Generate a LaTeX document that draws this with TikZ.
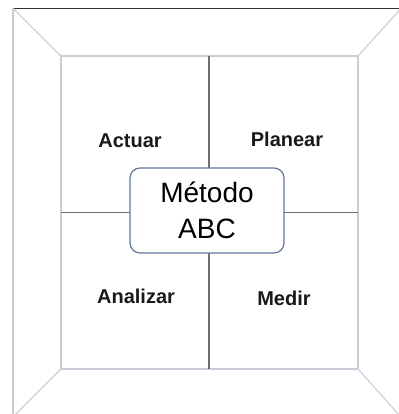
\documentclass[tikz,border=0pt]{standalone}
\usepackage{fontspec}
\setmainfont{Liberation Sans}
\definecolor{framec}{HTML}{C9CDD8}
\definecolor{divc}{HTML}{6E6E6E}
\definecolor{boxc}{HTML}{61789A}
\begin{document}
\begin{tikzpicture}[x=1pt,y=-1pt,
  frameline/.style={draw=framec,line width=1.1pt},
  divline/.style={draw=divc,line width=1.1pt},
  label/.style={font=\fontsize{20}{24}\selectfont\bfseries,text=black!90},
  centerbox/.style={draw=boxc,line width=1.2pt,rounded corners=10pt,fill=white,
    minimum width=154pt,minimum height=85pt,align=center,
    font=\fontsize{28}{36}\selectfont,inner sep=0pt}]
\useasboundingbox (0,0) rectangle (398,414);
% outer frame corners
\coordinate (O1) at (13,8.5);
\coordinate (O2) at (401,8.5);
\coordinate (O3) at (401,417);
\coordinate (O4) at (13,417);
% inner frame corners
\coordinate (I1) at (61,56);
\coordinate (I2) at (358,56);
\coordinate (I3) at (358,369);
\coordinate (I4) at (61,369);
% outer frame
\draw[frameline] (O4) -- (O1);
\draw[frameline] (O2) -- (O3) -- (O4);
\draw[draw=black!80,line width=1.3pt] (O1) -- (O2);
% diagonals
\draw[frameline] (O1) -- (I1);
\draw[frameline] (O2) -- (I2);
\draw[frameline] (O3) -- (I3);
\draw[frameline] (O4) -- (I4);
% inner frame
\draw[frameline] (I1) -- (I2) -- (I3) -- (I4) -- cycle;
% dividers
\coordinate (Vt) at (209,56);
\coordinate (Vb) at (209,369);
\coordinate (Hl) at (61,212.5);
\coordinate (Hr) at (358,212.5);
\draw[divline] (Vt) -- (Vb);
\draw[divline] (Hl) -- (Hr);
% center box
\node[centerbox] (abc) at (207,210.5) {Método\\ABC};
% labels
\node[label] (actuar) at (130,141) {Actuar};
\node[label] (planear) at (287,139) {Planear};
\node[label] (analizar) at (136,296) {Analizar};
\node[label] (medir) at (284,298) {Medir};
\end{tikzpicture}
\end{document}
